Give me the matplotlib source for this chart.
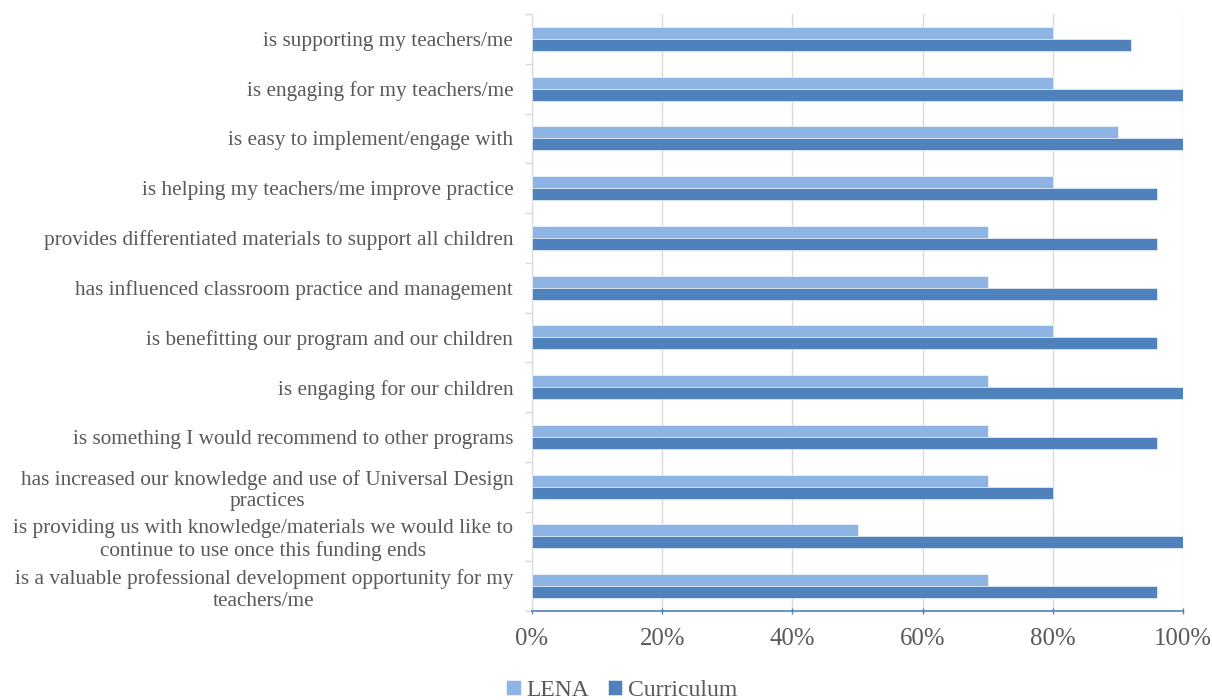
import matplotlib
matplotlib.use("Agg")
import matplotlib.pyplot as plt
import numpy as np

categories = [
    "is supporting my teachers/me",
    "is engaging for my teachers/me",
    "is easy to implement/engage with",
    "is helping my teachers/me improve practice",
    "provides differentiated materials to support all children",
    "has influenced classroom practice and management",
    "is benefitting our program and our children",
    "is engaging for our children",
    "is something I would recommend to other programs",
    "has increased our knowledge and use of Universal Design\npractices",
    "is providing us with knowledge/materials we would like to\ncontinue to use once this funding ends",
    "is a valuable professional development opportunity for my\nteachers/me",
]
lena = [80, 80, 90, 80, 70, 70, 80, 70, 70, 70, 50, 70]
curriculum = [92, 100, 100, 96, 96, 96, 96, 100, 96, 80, 100, 96]
xticks = [0, 20, 40, 60, 80, 100]
xticklabels = ["0%", "20%", "40%", "60%", "80%", "100%"]

plt.rcParams['font.family'] = ['Liberation Serif', 'DejaVu Serif']
text_color = "#595959"
c_lena = "#8EB4E3"
c_cur = "#4F81BD"

fig = plt.figure(figsize=(12.12, 7.0), dpi=100)
ax = fig.add_axes([532/1212, 1 - 611/700, (1183-532)/1212, (611-14)/700])

n = len(categories)
y = np.arange(n)
h = 0.24
ax.barh(y - h/2, lena, height=h, color=c_lena, edgecolor="white", linewidth=0.4, label="LENA", zorder=3)
ax.barh(y + h/2, curriculum, height=h, color=c_cur, edgecolor="white", linewidth=0.4, label="Curriculum", zorder=3)

ax.set_xlim(0, 100)
ax.set_ylim(n - 0.5, -0.5)
ax.set_xticks(xticks)
ax.set_xticklabels(xticklabels, fontsize=17.8, color=text_color)
ax.set_yticks(y)
ax.set_yticklabels(categories, fontsize=15.3, color=text_color, linespacing=1.2)
for lab in ax.get_yticklabels():
    lab.set_multialignment('center')
ax.set_yticks(np.arange(n + 1) - 0.5, minor=True)
ax.tick_params(axis='y', which='major', length=0, pad=13.5)
ax.tick_params(axis='y', which='minor', length=5, color="#d9d9d9", width=1)
ax.tick_params(axis='x', length=5, color=c_cur, width=1, direction='inout', pad=10)

ax.grid(axis='x', color="#d9d9d9", linewidth=1, zorder=0)
for s in ['top', 'right']:
    ax.spines[s].set_visible(False)
ax.spines['left'].set_color("#d9d9d9")
ax.spines['bottom'].set_color(c_cur)
ax.spines['bottom'].set_linewidth(1.2)

leg = fig.legend(loc='center', bbox_to_anchor=(622/1212, 1 - 690/700), ncol=2, frameon=False,
                 fontsize=17, handlelength=0.6, handleheight=0.6, handletextpad=0.25, columnspacing=0.8)
for t in leg.get_texts():
    t.set_color(text_color)

fig.savefig("out.png", dpi=100)
